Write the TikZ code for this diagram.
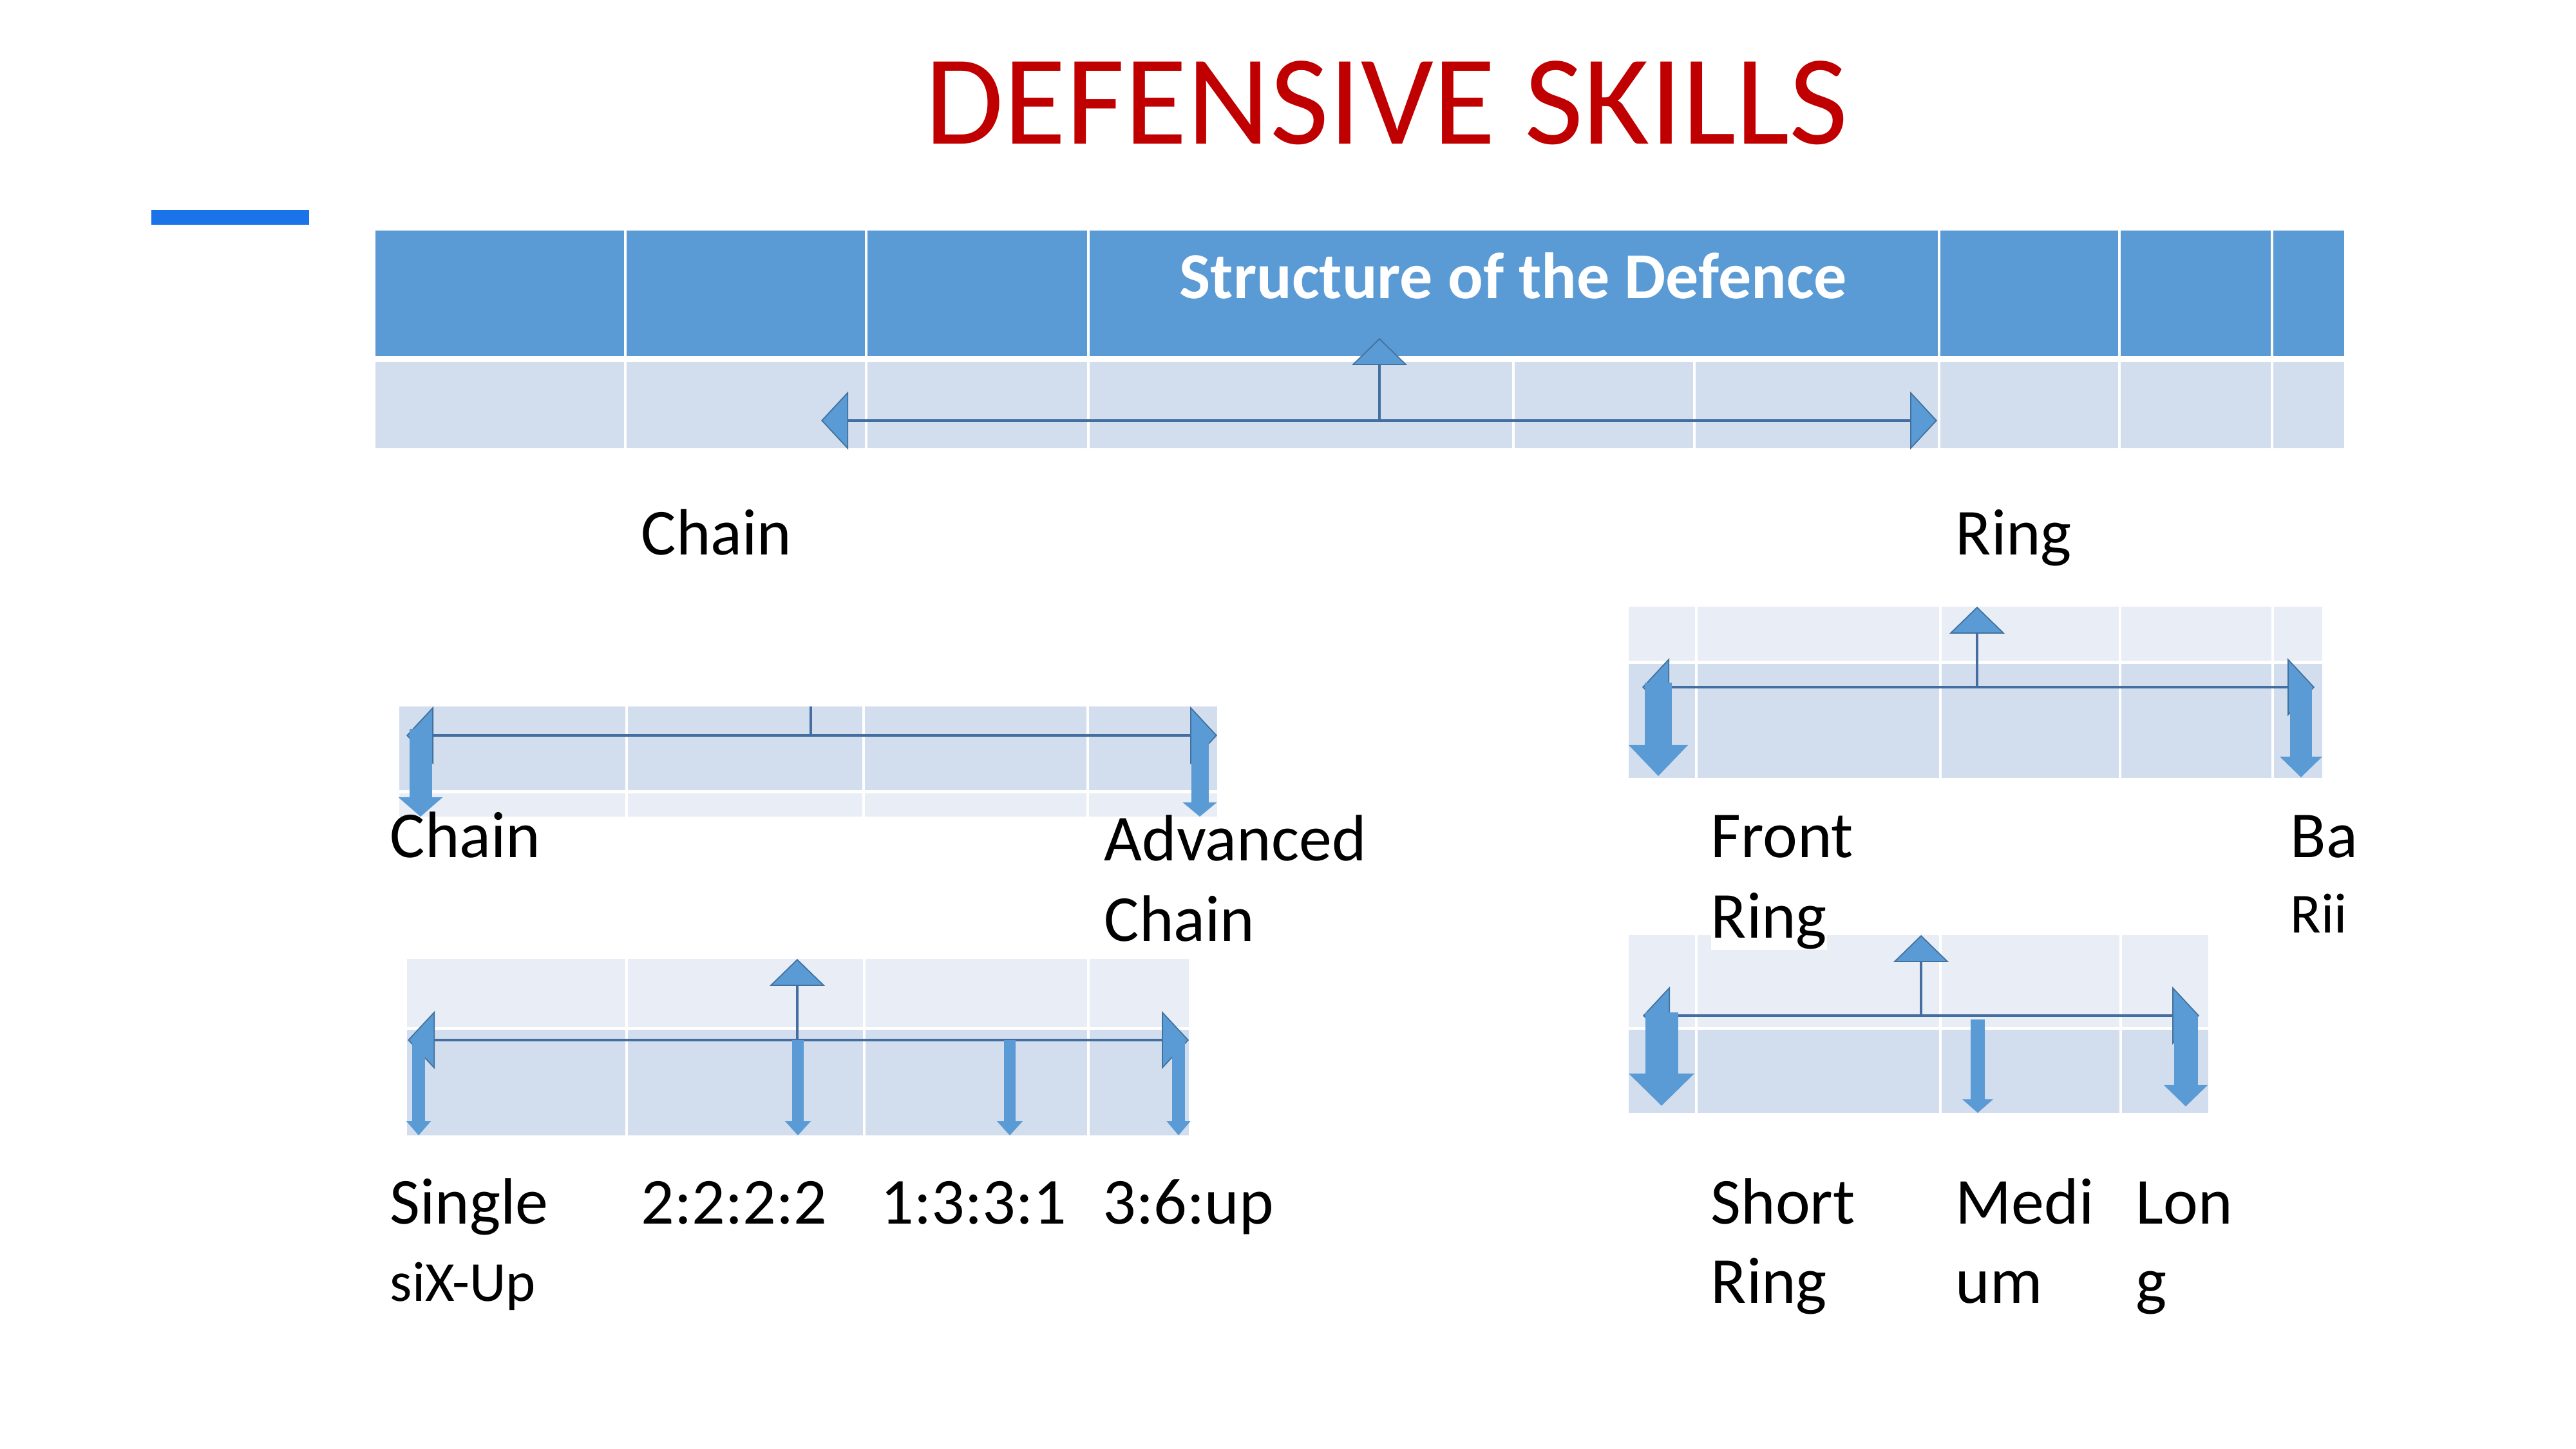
\documentclass[tikz,border=0pt]{standalone}
\usepackage{fontspec}
\setmainfont{Carlito}
\usepackage{tikz}
\usetikzlibrary{arrows.meta}
\definecolor{cTitle}{RGB}{192,0,0}
\definecolor{cAccent}{RGB}{26,115,232}
\definecolor{cHead}{RGB}{91,155,213}
\definecolor{cBandA}{RGB}{210,222,238}
\definecolor{cBandB}{RGB}{232,237,246}
\definecolor{cLine}{RGB}{68,110,160}
\definecolor{cEdge}{RGB}{65,113,156}

\begin{document}
\begin{tikzpicture}[
   lbl/.style={anchor=base west,inner sep=0pt,font=\fontsize{29}{34}\selectfont},
   sml/.style={anchor=base west,inner sep=0pt,font=\fontsize{25}{28}\selectfont},
   sep/.style={draw=white,line width=1.2pt},
   bar/.style={draw=cLine,line width=1.4pt,{Triangle[length=4.2mm,width=9mm,line width=0.5pt,color=cEdge,fill=cHead]}-{Triangle[length=4.2mm,width=9mm,line width=0.5pt,color=cEdge,fill=cHead]}},
   up/.style={draw=cLine,line width=1.2pt,-{Triangle[length=4.2mm,width=8.6mm,line width=0.5pt,color=cEdge,fill=cHead]}},
   down/.style n args={3}{draw=cHead,line width=#1mm,-{Triangle[length=#3mm,width=#2mm,line width=0pt]}}]
  \fill[white] (0,0) rectangle (40,-22.5);
  \useasboundingbox (0,0) rectangle (40,-22.5);
  % Title
  \node[anchor=base west,inner sep=0pt,text=cTitle,font=\fontsize{56.5}{60}\selectfont] (title) at (14.36,-2.24) {DEFENSIVE SKILLS};
  \fill[cAccent] (2.35,-3.26) rectangle (4.80,-3.49);
  % Structure of the Defence
  \fill[cHead] (5.83,-3.58) rectangle (36.40,-5.53);
  \fill[cBandA] (5.83,-5.62) rectangle (36.40,-6.96);
  \foreach \x in {9.71,13.45,16.90,30.11,32.91,35.28} \draw[sep] (\x,-3.58) -- (\x,-6.96);
  \foreach \x in {23.50,26.31} \draw[sep] (\x,-5.62) -- (\x,-6.96);
  \node[anchor=base west,inner sep=0pt,text=white,font=\bfseries\fontsize{29}{32}\selectfont] (head) at (18.31,-4.64) {Structure of the Defence};
  \coordinate (sL) at (12.75,-6.53); \coordinate (sR) at (30.08,-6.53);
  \coordinate (sM) at (21.42,-6.53); \coordinate (sT) at (21.42,-5.25);
  \draw[bar] (sL) -- (sR); \draw[up] (sM) -- (sT);
  % Chain
  \fill[cBandA] (6.20,-10.97) rectangle (18.90,-12.27);
  \fill[cBandB] (6.20,-12.32) rectangle (18.90,-12.68);
  \foreach \x in {9.73,13.41,16.89} \draw[sep] (\x,-10.97) -- (\x,-12.68);
  \coordinate (cL) at (6.31,-11.42); \coordinate (cR) at (18.90,-11.42);
  \coordinate (cM) at (12.59,-11.42); \coordinate (cT) at (12.59,-10.97);
  \draw[bar] (cL) -- (cR); \draw[cLine,line width=1.2pt] (cM) -- (cT);
  \coordinate (c1) at (6.53,-11.32); \coordinate (c1e) at (6.53,-12.68);
  \coordinate (c2) at (18.63,-11.42); \coordinate (c2e) at (18.63,-12.68);
  \draw[down={3.5}{6.9}{3}] (c1) -- (c1e); \draw[down={2.7}{5.3}{2.2}] (c2) -- (c2e);
  % Ring
  \fill[cBandB] (25.29,-9.42) rectangle (36.06,-10.26);
  \fill[cBandA] (25.29,-10.31) rectangle (36.06,-12.08);
  \foreach \x in {26.34,30.13,32.92,35.29} \draw[sep] (\x,-9.42) -- (\x,-12.08);
  \coordinate (rL) at (25.50,-10.67); \coordinate (rR) at (35.94,-10.67);
  \coordinate (rM) at (30.70,-10.67); \coordinate (rT) at (30.70,-9.42);
  \draw[bar] (rL) -- (rR); \draw[up] (rM) -- (rT);
  \coordinate (r1) at (25.75,-10.60); \coordinate (r1e) at (25.75,-12.05);
  \coordinate (r2) at (35.73,-10.67); \coordinate (r2e) at (35.73,-12.07);
  \draw[down={4.2}{9.2}{4.8}] (r1) -- (r1e); \draw[down={3.4}{6.6}{3.2}] (r2) -- (r2e);
  % Six-up
  \fill[cBandB] (6.32,-14.89) rectangle (18.46,-15.95);
  \fill[cBandA] (6.32,-15.99) rectangle (18.46,-17.63);
  \foreach \x in {9.73,13.42,16.90} \draw[sep] (\x,-14.89) -- (\x,-17.63);
  \coordinate (uL) at (6.33,-16.15); \coordinate (uR) at (18.46,-16.15);
  \coordinate (uM) at (12.38,-16.15); \coordinate (uT) at (12.38,-14.89);
  \draw[bar] (uL) -- (uR); \draw[up] (uM) -- (uT);
  \foreach \x/\w/\h [count=\i] in {6.50/2.0/3.8,12.39/1.8/4.0,15.68/1.8/4.0,18.30/2.0/3.7} {
    \coordinate (u\i) at (\x,-16.15); \coordinate (u\i e) at (\x,-17.63);
    \draw[down={\w}{\h}{2.2}] (u\i) -- (u\i e);}
  % Ring lengths
  \fill[cBandB] (25.29,-14.52) rectangle (34.29,-15.95);
  \fill[cBandA] (25.29,-15.99) rectangle (34.29,-17.28);
  \foreach \x in {26.34,30.13,32.93} \draw[sep] (\x,-14.52) -- (\x,-17.28);
  \coordinate (lL) at (25.51,-15.77); \coordinate (lR) at (34.15,-15.77);
  \coordinate (lM) at (29.83,-15.77); \coordinate (lT) at (29.83,-14.52);
  \draw[bar] (lL) -- (lR); \draw[up] (lM) -- (lT);
  \coordinate (l1) at (25.80,-15.72); \coordinate (l1e) at (25.80,-17.17);
  \coordinate (l2) at (30.71,-15.83); \coordinate (l2e) at (30.71,-17.28);
  \coordinate (l3) at (33.94,-15.77); \coordinate (l3e) at (33.94,-17.18);
  \draw[down={5.1}{10.2}{5}] (l1) -- (l1e);
  \draw[down={2.2}{4.8}{2.1}] (l2) -- (l2e);
  \draw[down={3.7}{6.8}{3.3}] (l3) -- (l3e);
  % labels
  \node[lbl] (chainTop) at (9.95,-8.62) {Chain};
  \node[lbl] (ringTop) at (30.36,-8.62) {Ring};
  \node[lbl] (chainA) at (6.05,-13.32) {Chain};
  \node[lbl] (advA) at (17.14,-13.37) {Advanced};
  \node[lbl] (advB) at (17.14,-14.62) {Chain};
  \node[lbl] (frontA) at (26.56,-13.32) {Front};
  \node[lbl,fill=white] (frontB) at (26.56,-14.57) {Ring};
  \node[lbl] (backA) at (35.56,-13.32) {Ba};
  \node[sml] (backB) at (35.56,-14.49) {Rii};
  \node[lbl] (singleA) at (6.05,-19.00) {Single};
  \node[sml] (singleB) at (6.05,-20.20) {siX-Up};
  \node[lbl] (r2222) at (9.95,-19.00) {2:2:2:2};
  \node[lbl] (r1331) at (13.67,-19.00) {1:3:3:1};
  \node[lbl] (r36) at (17.12,-19.00) {3:6:up};
  \node[lbl] (shortA) at (26.56,-19.00) {Short};
  \node[lbl] (shortB) at (26.56,-20.23) {Ring};
  \node[lbl] (medA) at (30.36,-19.00) {Medi};
  \node[lbl] (medB) at (30.36,-20.23) {um};
  \node[lbl] (longA) at (33.16,-19.00) {Lon};
  \node[lbl] (longB) at (33.16,-20.23) {g};
\end{tikzpicture}
\end{document}
